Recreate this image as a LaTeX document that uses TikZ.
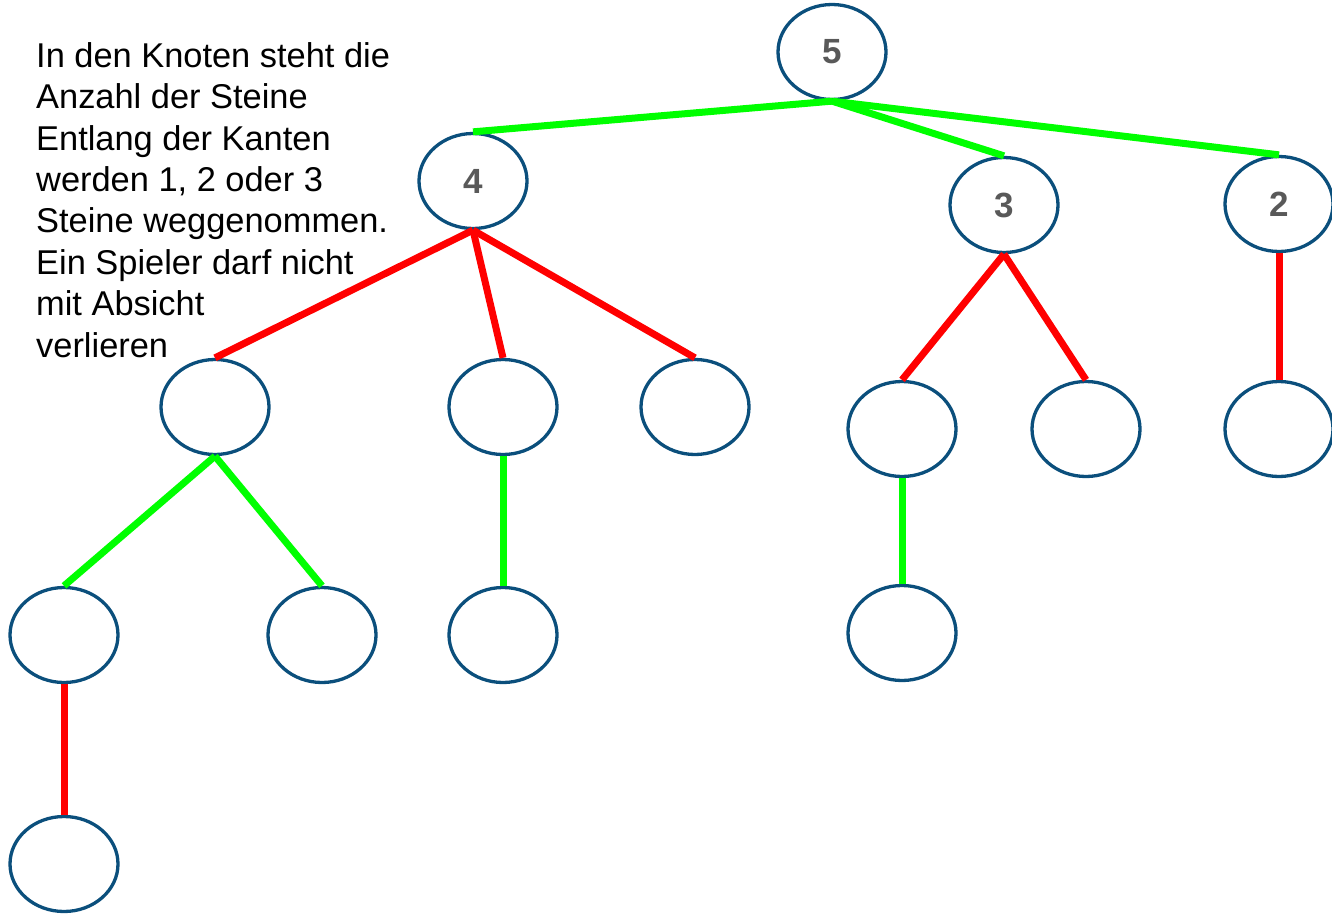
\documentclass[tikz,border=0pt]{standalone}
\usepackage{fontspec}
\setmainfont{Liberation Sans}
\usetikzlibrary{shapes.geometric}
\definecolor{nodeblue}{HTML}{0B4F7C}
\definecolor{labelgray}{HTML}{595959}
\definecolor{edgegreen}{HTML}{00FF00}
\definecolor{edgered}{HTML}{FF0000}
\tikzset{
  knot/.style={ellipse, draw=nodeblue, line width=3.3pt, minimum width=108pt, minimum height=95pt, inner sep=0pt,
    font=\fontsize{35}{40}\selectfont\bfseries, text=labelgray},
  gedge/.style={draw=edgegreen, line width=7pt},
  redge/.style={draw=edgered, line width=7pt}
}
\begin{document}
\begin{tikzpicture}[x=1pt,y=-1pt]
\useasboundingbox (0,0) rectangle (1332,915);
\node[anchor=base west, align=left, inner sep=0pt, font=\fontsize{34.4}{41.4}\selectfont] (txt) at (36,357)
  {In den Knoten steht die\\Anzahl der Steine\\Entlang der Kanten\\werden 1, 2 oder 3\\Steine weggenommen.\\Ein Spieler darf nicht\\mit Absicht\\verlieren};
% nodes
\node[knot] (n5) at (832,52) {5};
\node[knot] (n4) at (473,181) {4};
\node[knot] (n3) at (1004,205) {3};
\node[knot] (n2) at (1279,204) {2};
\node[knot] (a) at (215,407) {};
\node[knot] (b) at (503,407) {};
\node[knot] (c) at (695,407) {};
\node[knot] (d) at (902,429) {};
\node[knot] (e) at (1086,429) {};
\node[knot] (f) at (1279,429) {};
\node[knot] (g) at (64,635) {};
\node[knot] (h) at (322,635) {};
\node[knot] (i) at (503,635) {};
\node[knot] (j) at (902,633) {};
\node[knot] (k) at (64,864) {};
% edges
\draw[gedge] (n5.south) -- (n4.north);
\draw[gedge] (n5.south) -- (n3.north);
\draw[gedge] (n5.south) -- (n2.north);
\draw[redge] (n4.south) -- (a.north);
\draw[redge] (n4.south) -- (b.north);
\draw[redge] (n4.south) -- (c.north);
\draw[redge] (n3.south) -- (d.north);
\draw[redge] (n3.south) -- (e.north);
\draw[redge] (n2.south) -- (f.north);
\draw[gedge] (a.south) -- (g.north);
\draw[gedge] (a.south) -- (h.north);
\draw[gedge] (b.south) -- (i.north);
\draw[gedge] (d.south) -- (j.north);
\draw[redge] (g.south) -- (k.north);
\end{tikzpicture}
\end{document}
